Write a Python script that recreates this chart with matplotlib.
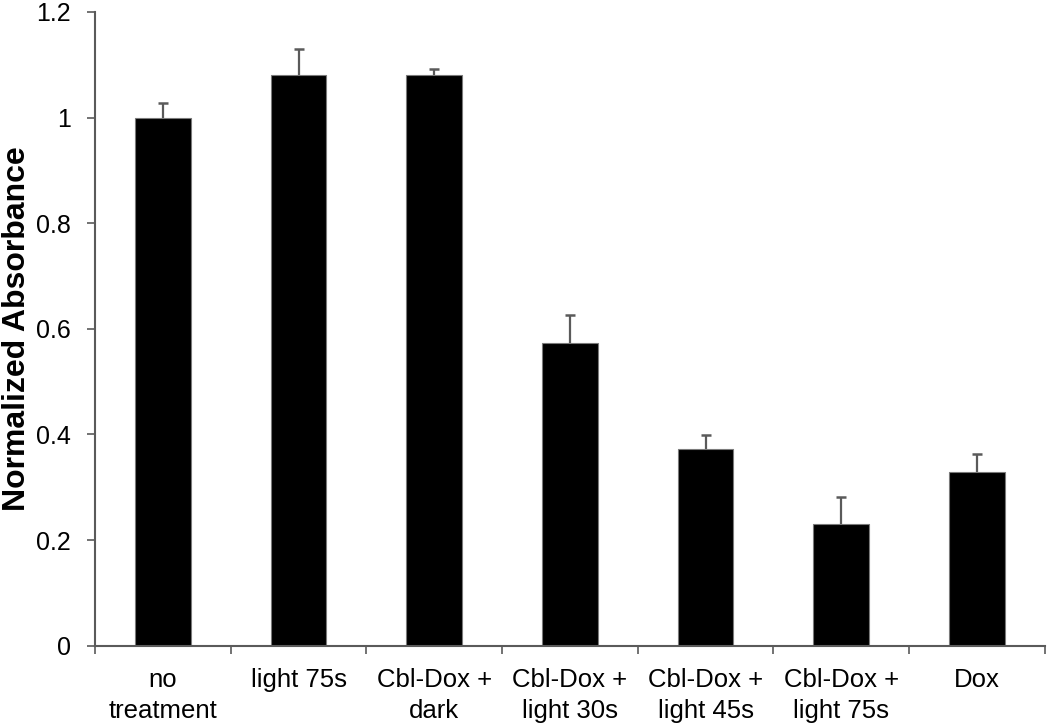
import numpy as np
import matplotlib
matplotlib.use('Agg')
import matplotlib.pyplot as plt

plt.rcParams['font.family'] = ['Liberation Sans', 'DejaVu Sans']

categories = ['no\ntreatment', 'light 75s', 'Cbl-Dox +\ndark', 'Cbl-Dox +\nlight 30s',
              'Cbl-Dox +\nlight 45s', 'Cbl-Dox +\nlight 75s', 'Dox']
values = [1.0, 1.08, 1.08, 0.573, 0.372, 0.230, 0.329]
errors = [0.027, 0.049, 0.013, 0.053, 0.027, 0.052, 0.034]
yticks = [0, 0.2, 0.4, 0.6, 0.8, 1.0, 1.2]
ytick_labels = ['0', '0.2', '0.4', '0.6', '0.8', '1', '1.2']

axis_color = '#5a5a5a'

fig = plt.figure(figsize=(10.5, 7.27), dpi=100)
ax = fig.add_axes([0.0905, 0.1118, 0.9045, 0.8717])

x = np.arange(len(categories))
ax.bar(x, values, width=0.41, color='black', edgecolor='#7a7a7a', linewidth=0.8, zorder=2)
eb = ax.errorbar(x, values, yerr=[np.zeros(len(errors)), errors], fmt='none',
                 ecolor=axis_color, elinewidth=1.6, capsize=3.8, capthick=1.8, zorder=1)
# only the upper cap is shown
eb[1][0].set_visible(False)

ax.set_xlim(-0.5, len(categories) - 0.5)
ax.set_ylim(0, 1.2)
ax.set_yticks(yticks)
ax.set_yticklabels(ytick_labels)

# category labels in the middle, ticks on the boundaries
ax.set_xticks(x)
ax.set_xticklabels(categories, fontsize=18.5, linespacing=1.35)
ax.tick_params(axis='x', which='major', length=0, pad=16)
ax.set_xticks(np.arange(len(categories) + 1) - 0.5, minor=True)
ax.tick_params(axis='x', which='minor', length=6, width=1.2, color=axis_color, direction='out')
ax.tick_params(axis='y', length=6, width=1.2, color=axis_color, direction='out',
               labelsize=18, pad=11.5)

for side in ['top', 'right']:
    ax.spines[side].set_visible(False)
for side in ['left', 'bottom']:
    ax.spines[side].set_color(axis_color)
    ax.spines[side].set_linewidth(1.5)

ax.set_ylabel('Normalized Absorbance', fontsize=23, fontweight='bold')
ax.yaxis.set_label_coords(-0.066, 0.5)

fig.savefig('out.png', dpi=100, facecolor='white')
